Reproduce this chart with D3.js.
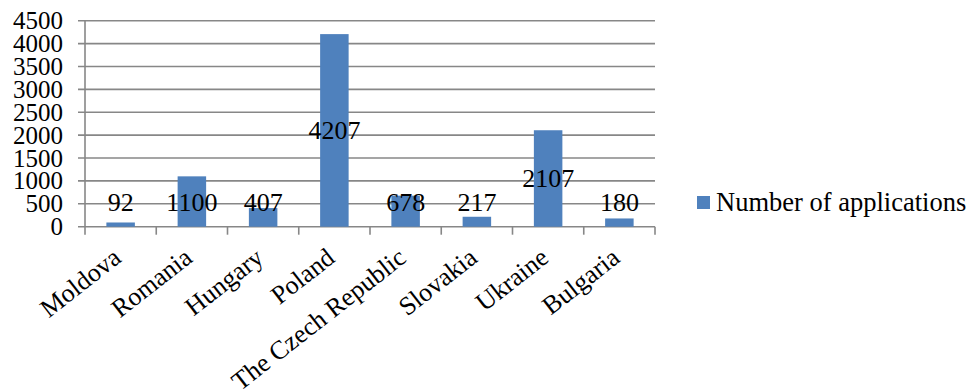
<!DOCTYPE html>
<html lang="en">
<head>
<meta charset="utf-8">
<title>Number of applications</title>
<script src="https://d3js.org/d3.v7.min.js"></script>
<style>
  body { margin: 0; background: #fff; }
  text { font-family: "Liberation Serif", "Times New Roman", serif; fill: #000; }
</style>
</head>
<body>
<script>
// data
var countries = ["Moldova", "Romania", "Hungary", "Poland", "The Czech Republic", "Slovakia", "Ukraine", "Bulgaria"];
var applications = [92, 1100, 407, 4207, 678, 217, 2107, 180];
var yTicks = [0, 500, 1000, 1500, 2000, 2500, 3000, 3500, 4000, 4500];
var seriesName = "Number of applications";

var width = 973, height = 391;
var plot = { left: 85, right: 655, top: 20.7, bottom: 226.7 };
var gridColor = "#878787";
var barColor = "#4F81BD";

var svg = d3.select("body").append("svg")
    .attr("width", width)
    .attr("height", height);

var x = d3.scaleBand().domain(countries).range([plot.left, plot.right]).paddingInner(0.6).paddingOuter(0.3);
var xb = d3.scaleBand().domain(countries).range([plot.left, plot.right]);
var y = d3.scaleLinear().domain([0, 4500]).range([plot.bottom, plot.top]);

// gridlines + y ticks
svg.append("g").selectAll("line").data(yTicks).enter().append("line")
    .attr("x1", plot.left - 7).attr("x2", plot.right)
    .attr("y1", function (d) { return y(d); }).attr("y2", function (d) { return y(d); })
    .attr("stroke", gridColor).attr("stroke-width", 1.6);

svg.append("g").selectAll("text").data(yTicks).enter().append("text")
    .attr("x", 63)
    .attr("y", function (d) { return y(d) + 8.5; })
    .attr("text-anchor", "end")
    .style("font-size", "25px")
    .text(function (d) { return d; });

// y axis line
svg.append("line")
    .attr("x1", plot.left).attr("x2", plot.left)
    .attr("y1", plot.top).attr("y2", plot.bottom)
    .attr("stroke", gridColor).attr("stroke-width", 1.6);

// category ticks
var catTicks = countries.map(function (c) { return xb(c); }).concat([plot.right]);
svg.append("g").selectAll("line").data(catTicks).enter().append("line")
    .attr("x1", function (d) { return d; }).attr("x2", function (d) { return d; })
    .attr("y1", plot.bottom).attr("y2", plot.bottom + 8)
    .attr("stroke", gridColor).attr("stroke-width", 1.6);

// bars
svg.append("g").selectAll("rect").data(applications).enter().append("rect")
    .attr("x", function (d, i) { return x(countries[i]); })
    .attr("width", x.bandwidth())
    .attr("y", function (d) { return y(d); })
    .attr("height", function (d) { return y(0) - y(d); })
    .attr("fill", barColor);

// data labels (centred, kept clear of the axis)
svg.append("g").selectAll("text").data(applications).enter().append("text")
    .attr("x", function (d, i) { return x(countries[i]) + x.bandwidth() / 2; })
    .attr("y", function (d) { return Math.min((y(d) + y(0)) / 2, y(0) - 25) + 9; })
    .attr("text-anchor", "middle")
    .style("font-size", "26px")
    .text(function (d) { return d; });

// category labels
svg.append("g").selectAll("text").data(countries).enter().append("text")
    .attr("transform", function (d) {
        return "translate(" + (xb(d) + xb.bandwidth() / 2 + 2) + "," + (plot.bottom + 34) + ") rotate(-38)";
    })
    .attr("text-anchor", "end")
    .style("font-size", "26px")
    .text(function (d) { return d; });

// legend
var legend = svg.append("g").attr("transform", "translate(697,196)");
legend.append("rect").attr("width", 13).attr("height", 13).attr("fill", barColor);
legend.append("text").attr("x", 19).attr("y", 15)
    .style("font-size", "26.5px")
    .text(seriesName);
</script>
</body>
</html>
